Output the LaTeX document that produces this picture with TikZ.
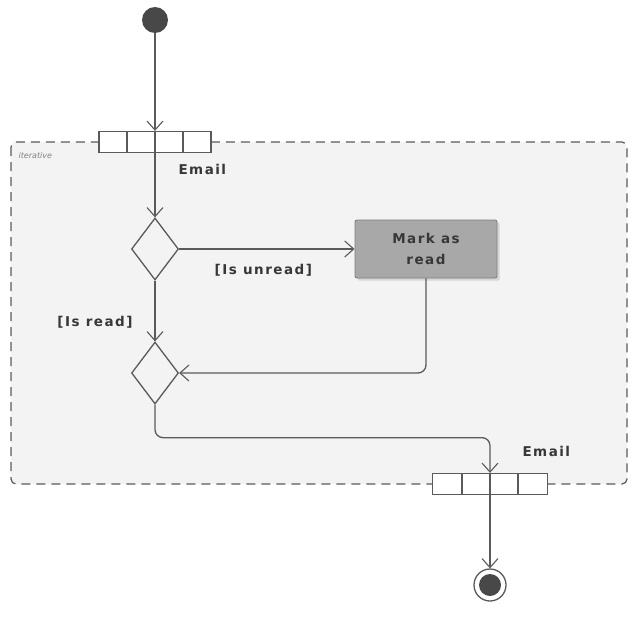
\documentclass[tikz,border=0pt]{standalone}
\usepackage{fontspec}
\setmainfont{DejaVu Sans}
\newfontfamily\lblfont[LetterSpace=11]{DejaVu Sans}
\usetikzlibrary{arrows.meta,shapes.geometric,shadows,calc}
\definecolor{ln}{RGB}{90,90,90}
\definecolor{regfill}{RGB}{243,243,243}
\definecolor{boxfill}{RGB}{168,168,168}
\definecolor{txt}{RGB}{55,55,55}
\begin{document}
\begin{tikzpicture}[x=1pt,y=-1pt,
  arr/.style={draw=ln, line width=1.3pt, -{Straight Barb[length=9pt,width=16pt,line width=1.1pt]}},
  pinbox/.style={draw=ln, line width=1.3pt, fill=white, minimum width=#1, minimum height=21pt, inner sep=0pt},
  dec/.style={diamond, draw=ln, line width=1.3pt, fill=regfill, minimum width=47pt, minimum height=62pt, inner sep=0pt},
  lbl/.style={font=\lblfont\bfseries\fontsize{13.5}{21}\selectfont, text=txt},
]
\useasboundingbox (0,0) rectangle (640,640);
% region
\draw[draw=ln, line width=1.2pt, dash pattern=on 9pt off 6pt, rounded corners=5pt, fill=regfill] (11,142) rectangle (627,484);
\node[anchor=west, font=\itshape\fontsize{8}{9}\selectfont, text=gray] (itlbl) at (15,156) {iterative};
% start
\node[circle, fill=ln!80!black, minimum size=26pt, inner sep=0pt] (start) at (155,20) {};
% input pin
\node[pinbox=112pt] (pinin) at (155,142) {};
\foreach \xx in {127,155,183} \draw[ln, line width=1.3pt] (\xx,132) -- (\xx,152);
\node[lbl, anchor=west] (email1) at (175,169) {Email};
% decisions
\node[dec] (d1) at (155,249) {};
\node[dec] (d2) at (155,373) {};
% action
\node[rectangle, fill=boxfill, draw=boxfill!75!black, line width=0.9pt, rounded corners=2pt, minimum width=142pt, minimum height=58pt, drop shadow={opacity=0.25}, align=center, lbl] (mark) at (426,249) {Mark as\\read};
% output pin
\node[pinbox=115pt] (pinout) at (490,484) {};
\foreach \xx in {462,490,518} \draw[ln, line width=1.3pt] (\xx,474) -- (\xx,494);
\node[lbl, anchor=west] (email2) at (519,451) {Email};
% final
\node[circle, draw=ln, line width=1.3pt, fill=white, minimum size=32pt, inner sep=0pt] (final) at (490,585) {};
\node[circle, fill=ln!80!black, minimum size=22pt, inner sep=0pt] (finalin) at (490,585) {};
% edges
\draw[arr] (start) -- (pinin.north);
\draw[arr] (pinin.south) -- (d1.north);
\draw[arr] (d1.east) -- (mark.west) node[lbl, pos=0.48, below=11pt] {[Is unread]};
\draw[arr] (d1.south) -- (d2.north);
\node[lbl, anchor=east] (isread) at (136,322) {[Is read]};
\draw[arr, rounded corners=8pt] (mark.south) |- (d2.east);
\coordinate (bend) at ($(d2.south)+(0,33)$);
\draw[arr, rounded corners=8pt] (d2.south) -- (bend) -| (pinout.north);
\draw[arr] (pinout.south) -- (final.north);
\end{tikzpicture}
\end{document}
